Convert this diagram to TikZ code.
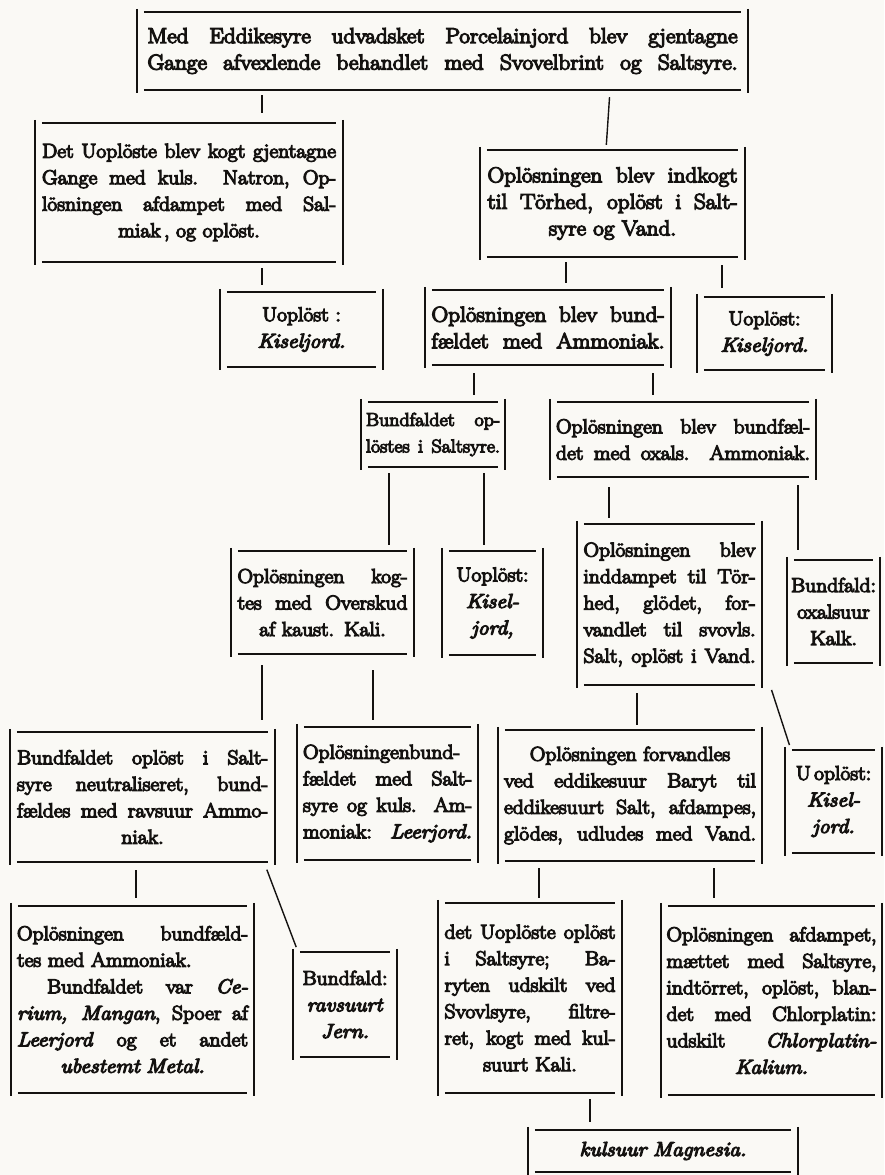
\documentclass[tikz,border=0pt]{standalone}
\usepackage{fontspec}
\setmainfont{Latin Modern Roman}[FakeStretch=1.08,FakeBold=6]
\usetikzlibrary{calc}
\definecolor{paper}{RGB}{250,249,245}
\definecolor{ink}{RGB}{20,18,16}
\newcommand\jl[1]{{\spaceskip=0pt\xspaceskip=0pt\makebox[\hsize][s]{#1}}}
\newcommand\jleft[1]{\makebox[\hsize][l]{#1}}
\tikzset{
  bx/.style n args={5}{at={({(#1+#2)/2},{(#3+#4)/2})},
    minimum width={(#2-#1)*1pt}, minimum height={(#4-#3)*1pt},
    text width={#5pt}, inner sep=0pt, align=center,
    font=\fontsize{20}{26.5}\selectfont, text=ink},
  big/.style={font=\fontsize{21.5}{26.5}\selectfont},
  hl/.style={line width=2.2pt, draw=ink},
  vl/.style={line width=1.5pt, draw=ink},
  conn/.style={line width=1.4pt, draw=ink},
  thickconn/.style={line width=2.2pt, draw=ink},
}
\begin{document}
\begin{tikzpicture}[x=1pt,y=-1pt]
\useasboundingbox (0,0) rectangle (884,1175);
\fill[paper] (0,0) rectangle (884,1175);

\node[bx={137}{748}{12}{90}{590}, big] (A) {\jl{Med Eddikesyre udvadsket Porcelainjord blev gjentagne}\\\jl{Gange afvexlende behandlet med Svovelbrint og Saltsyre.}};
\node[bx={35}{343}{123}{262}{294}] (B) {\jl{Det Uoplöste blev kogt gjentagne}\\\jl{Gange med kuls. Natron, Op-}\\\jl{lösningen afdampet med Sal-}\\miak\,, og oplöst.};
\node[bx={480}{745}{150}{257}{250}, big] (C) {\jl{Oplösningen blev indkogt}\\\jl{til Törhed, oplöst i Salt-}\\syre og Vand.};
\node[bx={425}{671}{290}{365}{233}, big] (D) {\jl{Oplösningen blev bund-}\\\jl{fældet med Ammoniak.}};
\node[bx={697}{832}{297}{370}{120}] (E) {Uoplöst:\\\textit{Kiseljord.}};
\node[bx={220}{383}{292}{367}{150}] (F) {Uoplöst :\\\textit{Kiseljord.}};
\node[bx={361}{505}{402}{467}{134}, font=\fontsize{18.5}{26.5}\selectfont] (G) {\jl{Bundfaldet op-}\\\jl{löstes i Saltsyre.}};
\node[bx={550}{816}{402}{477}{254}] (H) {\jl{Oplösningen blev bundfæl-}\\\jl{det med oxals. Ammoniak.}};
\node[bx={231}{414}{551}{654}{170}] (I) {\jl{Oplösningen kog-}\\\jl{tes med Overskud}\\af kaust. Kali.};
\node[bx={442}{543}{551}{655}{90}] (J) {Uoplöst:\\\textit{Kisel-}\\\textit{jord,}};
\node[bx={577}{762}{524}{685}{172}] (K) {\jl{Oplösningen blev}\\\jl{inddampet til Tör-}\\\jl{hed, glödet, for-}\\\jl{vandlet til svovls.}\\\jl{Salt, oplöst i Vand.}};
\node[bx={787}{880}{560}{663}{86}] (L) {Bundfald:\\oxalsuur\\Kalk.};
\node[bx={10}{275}{732}{862}{251}] (M) {\jl{Bundfaldet oplöst i Salt-}\\\jl{syre neutraliseret, bund-}\\\jl{fældes med ravsuur Ammo-}\\niak.};
\node[bx={297}{478}{727}{860}{169}] (N) {\jl{Oplösningenbund-}\\\jl{fældet med Salt-}\\\jl{syre og kuls. Am-}\\\jl{moniak: \textit{Leerjord.}}};
\node[bx={498}{762}{730}{861}{252}] (O) {Oplösningen forvandles\\\jl{ved eddikesuur Baryt til}\\\jl{eddikesuurt Salt, afdampes,}\\\jl{glödes, udludes med Vand.}};
\node[bx={785}{882}{750}{853}{90}] (P) {U\,oplöst:\\\textit{Kisel-}\\\textit{jord.}};
\node[bx={11}{254}{906}{1093}{231}] (Q) {\jl{Oplösningen bundfæld-}\\\jleft{tes med Ammoniak.}\\\jl{\hspace*{30pt}Bundfaldet var \textit{Ce-}}\\\jl{\textit{rium, Mangan}, Spoer af}\\\jl{\textit{Leerjord} og et andet}\\\textit{ubestemt Metal.}};
\node[bx={293}{397}{952}{1057}{90}] (R) {Bundfald:\\\textit{ravsuurt}\\\textit{Jern.}};
\node[bx={438}{622}{903}{1093}{171}] (S) {\jl{det Uoplöste oplöst}\\\jl{i Saltsyre; Ba-}\\\jl{ryten udskilt ved}\\\jl{Svovlsyre, filtre-}\\\jl{ret, kogt med kul-}\\suurt Kali.};
\node[bx={661}{882}{906}{1095}{210}] (T) {\jl{Oplösningen afdampet,}\\\jl{mættet med Saltsyre,}\\\jl{indtörret, oplöst, blan-}\\\jl{det med Chlorplatin:}\\\jl{udskilt \textit{Chlorplatin-}}\\\textit{Kalium.}};
\node[bx={528}{798}{1130}{1172}{250}] (U) {\textit{kulsuur Magnesia.}};

\foreach \n in {A,B,C,D,E,F,G,H,I,J,K,L,M,N,O,P,Q,R,S,T,U} {
  \draw[vl] ([yshift=3pt]\n.north west) -- ([yshift=-3pt]\n.south west);
  \draw[vl] ([yshift=3pt]\n.north east) -- ([yshift=-3pt]\n.south east);
  \draw[hl] ([xshift=7pt]\n.north west) -- ([xshift=-7pt]\n.north east);
  \draw[hl] ([xshift=7pt]\n.south west) -- ([xshift=-7pt]\n.south east);
}

\draw[conn, shorten <=5pt, shorten >=10pt] (262,0 |- A.south) -- (262,0 |- B.north);
\draw[conn, shorten <=7pt, shorten >=5pt] (610,0 |- A.south) -- (606,0 |- C.north);
\draw[conn, shorten <=6pt, shorten >=7pt] (262,0 |- B.south) -- (262,0 |- F.north);
\draw[conn, shorten <=5pt, shorten >=7pt] (566,0 |- C.south) -- (566,0 |- D.north);
\draw[conn, shorten <=8pt, shorten >=9pt] (722,0 |- C.south) -- (722,0 |- E.north);
\draw[conn, shorten <=8pt, shorten >=7pt] (474,0 |- D.south) -- (474,0 |- G.north);
\draw[conn, shorten <=8pt, shorten >=7pt] (653,0 |- D.south) -- (653,0 |- H.north);
\draw[thickconn, shorten <=6pt, shorten >=6pt] (389,0 |- G.south) -- (389,0 |- I.north);
\draw[conn, shorten <=6pt, shorten >=6pt] (484,0 |- G.south) -- (484,0 |- J.north);
\draw[conn, shorten <=10pt, shorten >=6pt] (609,0 |- H.south) -- (609,0 |- K.north);
\draw[thickconn, shorten <=8pt, shorten >=10pt] (798,0 |- H.south) -- (798,0 |- L.north);
\draw[conn, shorten <=11pt, shorten >=12pt] (262,0 |- I.south) -- (262,0 |- M.north);
\draw[conn, shorten <=16pt, shorten >=7pt] (373,0 |- I.south) -- (373,0 |- N.north);
\draw[conn, shorten <=8pt, shorten >=5pt] (637,0 |- K.south) -- (637,0 |- O.north);
\draw[conn, shorten <=5pt, shorten >=5pt] (770,0 |- K.south) -- (791,0 |- P.north);
\draw[conn, shorten <=8pt, shorten >=8pt] (136,0 |- M.south) -- (136,0 |- Q.north);
\draw[conn, shorten <=8pt, shorten >=5pt] (264,0 |- M.south) -- (298,0 |- R.north);
\draw[conn, shorten <=7pt, shorten >=5pt] (539,0 |- O.south) -- (539,0 |- S.north);
\draw[conn, shorten <=7pt, shorten >=8pt] (714,0 |- O.south) -- (714,0 |- T.north);
\draw[conn, shorten <=6pt, shorten >=8pt] (590,0 |- S.south) -- (590,0 |- U.north);
\end{tikzpicture}
\end{document}
